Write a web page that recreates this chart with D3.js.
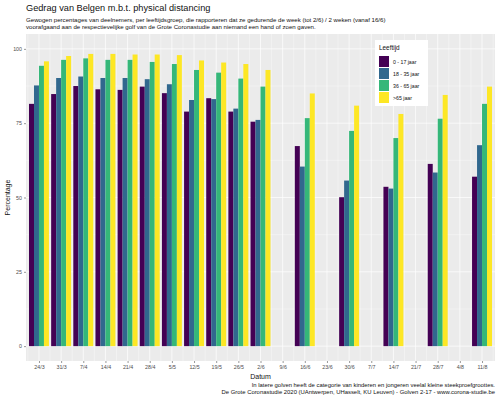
<!DOCTYPE html>
<html>
<head>
<meta charset="utf-8">
<script src="https://cdn.jsdelivr.net/npm/d3@7"></script>
<style>
  body { margin: 0; background: #fff; }
  text { font-family: "Liberation Sans", Arial, sans-serif; }
</style>
</head>
<body>
<div id="chart"></div>
<script>
// wave dates and weekly tick dates
var waves = ["2020-03-24", "2020-03-31", "2020-04-07", "2020-04-14", "2020-04-21", "2020-04-28",
  "2020-05-05", "2020-05-12", "2020-05-19", "2020-05-26", "2020-06-02", "2020-06-16",
  "2020-06-30", "2020-07-14", "2020-07-28", "2020-08-11"];

var tickDates = ["2020-03-24", "2020-03-31", "2020-04-07", "2020-04-14", "2020-04-21", "2020-04-28",
  "2020-05-05", "2020-05-12", "2020-05-19", "2020-05-26", "2020-06-02", "2020-06-09", "2020-06-16",
  "2020-06-23", "2020-06-30", "2020-07-07", "2020-07-14", "2020-07-21", "2020-07-28", "2020-08-04",
  "2020-08-11"];

var groups = ["0 - 17 jaar", "18 - 35 jaar", "36 - 65 jaar", ">65 jaar"];
var colors = ["#440154", "#31688E", "#35B779", "#FDE725"];

var age0_17   = [81.5, 84.8, 87.5, 86.4, 86.2, 87.3, 85.1, 78.9, 83.4, 78.9, 75.5, 67.3, 50.1, 53.6, 61.3, 57.0];
var age18_35  = [87.7, 90.2, 90.7, 90.2, 90.2, 89.8, 88.1, 82.8, 83.1, 79.9, 76.1, 60.4, 55.7, 53.0, 58.4, 67.6];
var age36_65  = [94.3, 96.3, 96.8, 96.3, 96.3, 95.6, 94.9, 92.9, 92.0, 90.0, 87.3, 76.7, 72.4, 70.0, 76.5, 81.5];
var age65plus = [95.8, 97.6, 98.3, 98.3, 98.1, 98.1, 97.9, 96.1, 95.4, 94.9, 92.9, 85.0, 80.9, 78.1, 84.5, 87.3];

var yTicks = [0, 25, 50, 75, 100];

var series = [age0_17, age18_35, age36_65, age65plus];

var W = 499, H = 399;
// panel edges
var pL = 26, pR = 495, pT = 34, pB = 361;

var parse = d3.utcParse("%Y-%m-%d");
var fmt = d3.utcFormat("%-d/%-m");
var dayMs = 864e5;

var first = parse(tickDates[0]), last = parse(tickDates[tickDates.length - 1]);
var x = d3.scaleUtc()
  .domain([new Date(+first - 4.1 * dayMs), new Date(+last + 4.1 * dayMs)])
  .range([pL, pR]);
var y = d3.scaleLinear().domain([-5, 105]).range([pB, pT]);

// dodge: 4 bars inside 0.9 of a week
var groupDays = 7 * 0.9;
var inner = d3.scaleBand().domain(d3.range(groups.length)).range([-groupDays / 2, groupDays / 2]);

var svg = d3.select("#chart").append("svg")
  .attr("width", W).attr("height", H);

// panel background
svg.append("rect")
  .attr("x", pL).attr("y", pT)
  .attr("width", pR - pL).attr("height", pB - pT)
  .attr("fill", "#EBEBEB");

// minor grid lines
var minorX = [new Date(+first - 3.5 * dayMs)].concat(tickDates.map(function(d) { return new Date(+parse(d) + 3.5 * dayMs); }));
svg.selectAll(".minorx").data(minorX.filter(function(d) { return x(d) > pL && x(d) < pR; }))
  .enter().append("line")
  .attr("x1", function(d) { return x(d); }).attr("x2", function(d) { return x(d); })
  .attr("y1", pT).attr("y2", pB)
  .attr("stroke", "#fff").attr("stroke-width", 0.35);
svg.selectAll(".minory").data([12.5, 37.5, 62.5, 87.5])
  .enter().append("line")
  .attr("x1", pL).attr("x2", pR)
  .attr("y1", function(d) { return y(d); }).attr("y2", function(d) { return y(d); })
  .attr("stroke", "#fff").attr("stroke-width", 0.35);

// major grid lines
svg.selectAll(".majorx").data(tickDates)
  .enter().append("line")
  .attr("x1", function(d) { return x(parse(d)); }).attr("x2", function(d) { return x(parse(d)); })
  .attr("y1", pT).attr("y2", pB)
  .attr("stroke", "#fff").attr("stroke-width", 0.7);
svg.selectAll(".majory").data(yTicks)
  .enter().append("line")
  .attr("x1", pL).attr("x2", pR)
  .attr("y1", function(d) { return y(d); }).attr("y2", function(d) { return y(d); })
  .attr("stroke", "#fff").attr("stroke-width", 0.7);

// bars
series.forEach(function(vals, gi) {
  svg.append("g").selectAll("rect")
    .data(vals)
    .enter().append("rect")
    .attr("x", function(d, i) { return x(new Date(+parse(waves[i]) + inner(gi) * dayMs)); })
    .attr("width", x(new Date(+first + inner.bandwidth() * dayMs)) - x(first))
    .attr("y", function(d) { return y(d); })
    .attr("height", function(d) { return y(0) - y(d); })
    .attr("fill", colors[gi]);
});

// axes
var xAxis = d3.axisBottom(x)
  .tickValues(tickDates.map(parse))
  .tickFormat(fmt)
  .tickSize(2).tickPadding(2);
var gx = svg.append("g").attr("transform", "translate(0," + pB + ")").call(xAxis);
gx.select(".domain").remove();
gx.selectAll("line").attr("stroke", "#333").attr("stroke-width", 0.5);
gx.selectAll("text").attr("fill", "#4D4D4D").style("font-size", "5.3px")
  .style("font-family", "Liberation Sans, Arial, sans-serif");

var yAxis = d3.axisLeft(y).tickValues(yTicks).tickSize(2).tickPadding(2);
var gy = svg.append("g").attr("transform", "translate(" + pL + ",0)").call(yAxis);
gy.select(".domain").remove();
gy.selectAll("line").attr("stroke", "#333").attr("stroke-width", 0.5);
gy.selectAll("text").attr("fill", "#4D4D4D").style("font-size", "5.3px")
  .style("font-family", "Liberation Sans, Arial, sans-serif");

// titles
svg.append("text").attr("x", pL).attr("y", 11)
  .style("font-size", "9.2px").attr("fill", "#111")
  .text("Gedrag van Belgen m.b.t. physical distancing");
svg.append("text").attr("x", pL).attr("y", 22)
  .style("font-size", "6.1px").attr("fill", "#111")
  .text("Gewogen percentages van deelnemers, per leeftijdsgroep, die rapporteren dat ze gedurende de week (tot 2/6) / 2 weken (vanaf 16/6)");
svg.append("text").attr("x", pL).attr("y", 29)
  .style("font-size", "6.1px").attr("fill", "#111")
  .text("voorafgaand aan de respectievelijke golf van de Grote Coronastudie aan niemand een hand of zoen gaven.");

svg.append("text")
  .attr("transform", "translate(10," + ((pT + pB) / 2) + ") rotate(-90)")
  .attr("text-anchor", "middle")
  .style("font-size", "7px").attr("fill", "#111")
  .text("Percentage");
svg.append("text").attr("x", (pL + pR) / 2).attr("y", 379)
  .attr("text-anchor", "middle")
  .style("font-size", "7px").attr("fill", "#111")
  .text("Datum");

// caption
svg.append("text").attr("x", pR).attr("y", 387)
  .attr("text-anchor", "end").style("font-size", "5.9px").attr("fill", "#111")
  .text("In latere golven heeft de categorie van kinderen en jongeren veelal kleine steekproefgroottes.");
svg.append("text").attr("x", pR).attr("y", 394)
  .attr("text-anchor", "end").style("font-size", "5.9px").attr("fill", "#111")
  .text("De Grote Coronastudie 2020 (UAntwerpen, UHasselt, KU Leuven) - Golven 2-17 - www.corona-studie.be");

// legend
var lg = svg.append("g").attr("transform", "translate(375,40)");
lg.append("rect").attr("width", 53).attr("height", 66).attr("fill", "#fff");
lg.append("text").attr("x", 4).attr("y", 10).style("font-size", "6.4px").attr("fill", "#111").text("Leeftijd");
groups.forEach(function(g, i) {
  lg.append("rect").attr("x", 4).attr("y", 16 + i * 12).attr("width", 10).attr("height", 11).attr("fill", colors[i]);
  lg.append("text").attr("x", 18).attr("y", 23.5 + i * 12).style("font-size", "5.2px").attr("fill", "#111").text(g);
});
</script>
</body>
</html>
